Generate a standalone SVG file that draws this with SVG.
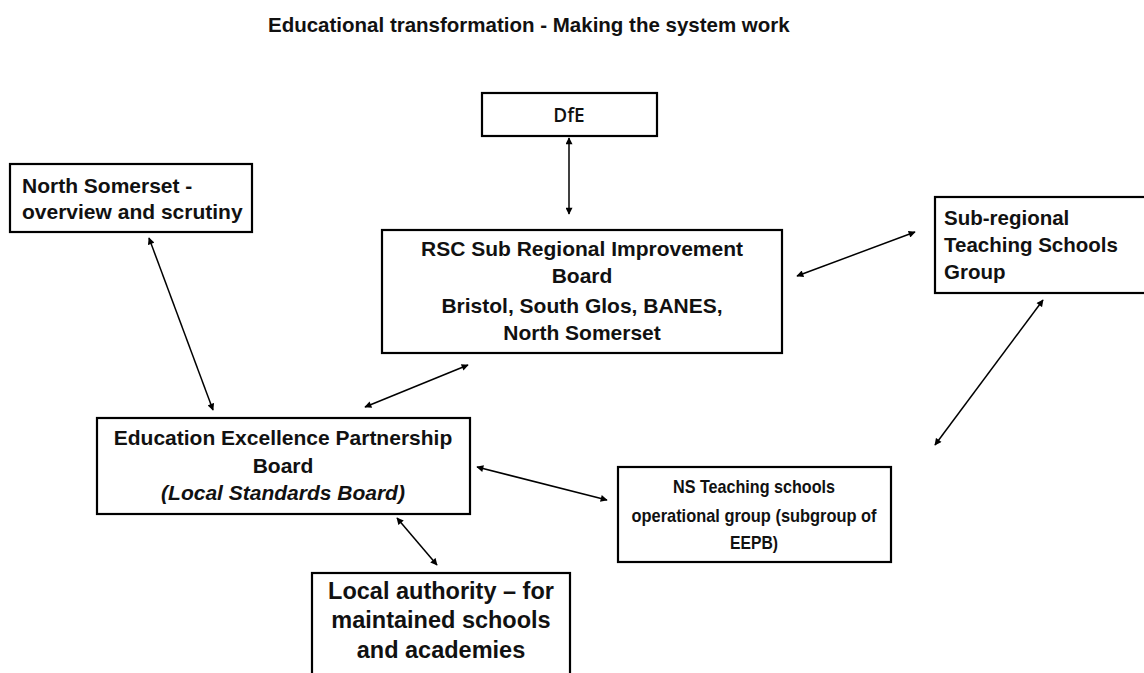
<svg xmlns="http://www.w3.org/2000/svg" width="1144" height="673" viewBox="0 0 1144 673">
<style>
.box{fill:#fff;stroke:#000;stroke-width:2.2}
.t{font-family:"Liberation Sans",Arial,sans-serif;font-weight:bold;fill:#111}
.c{text-anchor:middle}
.conn{stroke:#000;stroke-width:1.5;fill:none;marker-start:url(#ah);marker-end:url(#ah)}
</style>
<defs>
<marker id="ah" viewBox="0 0 10 10" refX="9" refY="5" markerWidth="8" markerHeight="7" markerUnits="userSpaceOnUse" orient="auto-start-reverse">
<path d="M0,0 L10,5 L0,10 Z" fill="#000"/>
</marker>
</defs>
<rect width="1144" height="673" fill="#fff"/>
<text class="t" x="268" y="32" font-size="20.5">Educational transformation - Making the system work</text>
<g id="connectors">
<line class="conn" x1="569" y1="138" x2="569" y2="214"/>
<line class="conn" x1="149" y1="238" x2="213" y2="410"/>
<line class="conn" x1="468" y1="365" x2="365" y2="407"/>
<line class="conn" x1="797" y1="276" x2="915" y2="232"/>
<line class="conn" x1="1043" y1="300" x2="935" y2="445"/>
<line class="conn" x1="477" y1="467" x2="607" y2="500"/>
<line class="conn" x1="397" y1="518" x2="437" y2="565"/>
</g>
<g id="dfe">
<rect class="box" x="482" y="93" width="175" height="43"/>
<text x="569" y="122" font-family="'Open Sans','Liberation Sans',sans-serif" font-weight="600" font-size="19" fill="#111" text-anchor="middle">DfE</text>
</g>
<g id="ns-overview">
<rect class="box" x="10" y="164" width="242" height="68"/>
<text class="t" x="22" y="193" font-size="21">North Somerset -</text>
<text class="t" x="22" y="219" font-size="21">overview and scrutiny</text>
</g>
<g id="rsc">
<rect class="box" x="382" y="230" width="400" height="123"/>
<text class="t c" x="582" y="256" font-size="21">RSC Sub Regional Improvement</text>
<text class="t c" x="582" y="283" font-size="21">Board</text>
<text class="t c" x="582" y="313" font-size="21">Bristol, South Glos, BANES,</text>
<text class="t c" x="582" y="340" font-size="21">North Somerset</text>
</g>
<g id="subregional">
<rect class="box" x="935" y="197" width="215" height="96"/>
<text class="t" x="944" y="225" font-size="20.5">Sub-regional</text>
<text class="t" x="944" y="252" font-size="20.5">Teaching Schools</text>
<text class="t" x="944" y="279" font-size="20.5">Group</text>
</g>
<g id="eepb">
<rect class="box" x="97" y="418" width="373" height="96"/>
<text class="t c" x="283" y="445" font-size="21">Education Excellence Partnership</text>
<text class="t c" x="283" y="473" font-size="21">Board</text>
<text class="t c" x="283" y="500" font-size="21" font-style="italic">(Local Standards Board)</text>
</g>
<g id="ns-teaching">
<rect class="box" x="618" y="467" width="273" height="95"/>
<text class="t c" x="754" y="493" font-size="19" textLength="162" lengthAdjust="spacingAndGlyphs">NS Teaching schools</text>
<text class="t c" x="754" y="522" font-size="19" textLength="245" lengthAdjust="spacingAndGlyphs">operational group (subgroup of</text>
<text class="t c" x="754" y="549" font-size="19" textLength="48" lengthAdjust="spacingAndGlyphs">EEPB)</text>
</g>
<g id="local-authority">
<rect class="box" x="312" y="573" width="258" height="120"/>
<text class="t c" x="441" y="599" font-size="23.5">Local authority – for</text>
<text class="t c" x="441" y="628" font-size="23.5">maintained schools</text>
<text class="t c" x="441" y="658" font-size="23.5">and academies</text>
</g>
</svg>
